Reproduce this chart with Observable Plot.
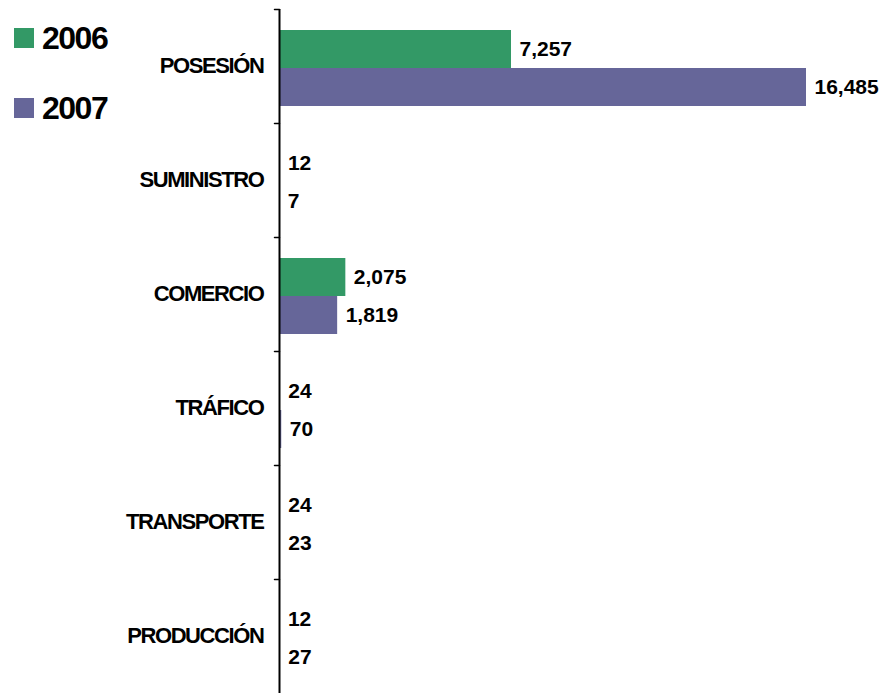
<!DOCTYPE html>
<html>
<head>
<meta charset="utf-8">
<script src="https://cdn.jsdelivr.net/npm/d3@7"></script>
<script src="https://cdn.jsdelivr.net/npm/@observablehq/plot@0.6"></script>
<style>
  html, body { margin: 0; padding: 0; background: #fff; }
  #wrap { position: relative; width: 882px; height: 693px; font-family: "Liberation Sans", Arial, sans-serif; }
  #legend { position: absolute; left: 14px; top: 20px; }
  .item { display: flex; align-items: center; height: 36px; margin-bottom: 34px; }
  .sw { width: 20px; height: 20px; margin-right: 8px; }
  .lbl { font-weight: bold; font-size: 32px; letter-spacing: -1.5px; color: #000; }
</style>
</head>
<body>
<div id="wrap"><div id="legend"></div></div>
<script>
const categories = ["POSESIÓN", "SUMINISTRO", "COMERCIO", "TRÁFICO", "TRANSPORTE", "PRODUCCIÓN"];
const years = ["2006", "2007"];
const values2006 = [7257, 12, 2075, 24, 24, 12];
const values2007 = [16485, 7, 1819, 70, 23, 27];
const colors = ["#339966", "#666699"];

const rows = categories.flatMap((c, i) => [
  {cat: c, year: years[0], value: values2006[i]},
  {cat: c, year: years[1], value: values2007[i]}
]);

const fmt = d3.format(",");
const tickShape = {draw(context, l) { context.moveTo(0, 0); context.lineTo(0, -l); }};

const chart = Plot.plot({
  width: 882,
  height: 693,
  marginLeft: 279,
  marginRight: 76,
  marginTop: 8,
  marginBottom: 0,
  style: {fontFamily: '"Liberation Sans", Arial, sans-serif', background: "#fff"},
  x: {domain: [0, d3.max(values2007)], axis: null},
  y: {domain: years, paddingInner: 0, paddingOuter: 0.464, align: 0.55, axis: null},
  fy: {domain: categories, padding: 0, axis: null},
  color: {domain: years, range: colors},
  marks: [
    Plot.barX(rows, {fy: "cat", y: "year", x: "value", fill: "year"}),
    Plot.text(rows, {fy: "cat", y: "year", x: "value", text: d => fmt(d.value), dx: 8, textAnchor: "start", fontSize: 21, fontWeight: "bold", fill: "#000"}),
    Plot.text(categories, {fy: d => d, text: d => d, frameAnchor: "left", dx: -16, dy: -1, textAnchor: "end", fontSize: 22, fontWeight: "bold", fill: "#000"}),
    Plot.ruleX([0], {stroke: "#000", strokeWidth: 2}),
    Plot.vector(categories, {fy: d => d, frameAnchor: "top-left", length: 5, rotate: -90, anchor: "start", shape: tickShape, stroke: "#000", strokeWidth: 1.5})
  ]
});
d3.select(chart).selectAll("text")
  .filter(function() { return categories.includes(this.textContent); })
  .style("letter-spacing", "-1.4px");
document.getElementById("wrap").appendChild(chart);

const legend = document.getElementById("legend");
years.forEach((y, i) => {
  const item = document.createElement("div");
  item.className = "item";
  const sw = document.createElement("div");
  sw.className = "sw";
  sw.style.background = colors[i];
  const lbl = document.createElement("span");
  lbl.className = "lbl";
  lbl.textContent = y;
  item.appendChild(sw);
  item.appendChild(lbl);
  legend.appendChild(item);
});
</script>
</body>
</html>
